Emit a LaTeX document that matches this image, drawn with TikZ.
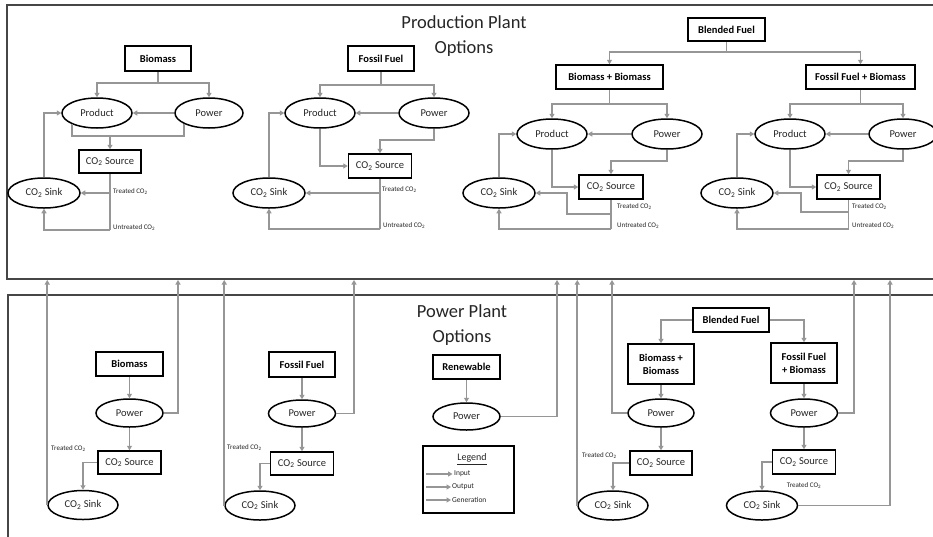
\documentclass[tikz,border=0pt]{standalone}
\usepackage{fontspec}
\setmainfont{Carlito}
\usetikzlibrary{arrows.meta,shapes.geometric}
\definecolor{wiregray}{RGB}{150,150,150}
\definecolor{framegray}{RGB}{70,70,70}
\newcommand{\cotwo}{CO\textsubscript{2}}
\begin{document}
\begin{tikzpicture}[x=1pt,y=-1pt,
  wire/.style={draw=wiregray,line width=1.9pt},
  arr/.style={wire,-{Triangle[length=4.5pt,width=5pt]}},
  fuelbox/.style={draw,line width=1.5pt,fill=white,inner sep=0pt,align=center,
    font=\fontsize{10.5}{13}\selectfont\bfseries},
  plainbox/.style={draw,line width=1.5pt,fill=white,inner sep=0pt,text=black!85,
    font=\fontsize{10.5}{12}\selectfont},
  oval/.style={ellipse,draw,line width=1.5pt,fill=white,inner sep=0pt,text=black!85,
    font=\fontsize{10.5}{12}\selectfont},
  lbl/.style={font=\fontsize{7}{8}\selectfont,inner sep=0pt,anchor=west,text=black!85},
  title/.style={font=\fontsize{18.5}{25}\selectfont,align=center,text=black!85},
  panel/.style={draw=framegray,line width=1.5pt}
]
\useasboundingbox (0,0) rectangle (933,536);
\clip (0,0) rectangle (933,536);
\fill[white] (0,0) rectangle (933,536);

% two panels
\draw[panel] (7,5) rectangle (945,279);
\draw[panel] (8,295) rectangle (945,550);
\coordinate (edge) at (0,280);

\node[title] (ttop) at (464,36.5) {Production Plant\\Options};
\node[title] (tbot) at (462,325) {Power Plant\\Options};

% ---------- Production plant: biomass ----------
\node[fuelbox,minimum width=66pt,minimum height=25pt] (t1fuel) at (158,58.5) {Biomass};
\node[oval,minimum width=70pt,minimum height=30pt] (t1prod) at (97,113) {Product};
\node[oval,minimum width=68pt,minimum height=30pt] (t1pow) at (209,113) {Power};
\node[plainbox,minimum width=62pt,minimum height=23pt] (t1src) at (110,161.5) {\cotwo{} Source};
\node[oval,minimum width=72pt,minimum height=30pt] (t1sink) at (44,193) {\cotwo{} Sink};
\coordinate (t1j) at (158,83);
\coordinate (t1k) at (110,136);
\coordinate (t1u) at (110,230);
\draw[wire] (t1fuel) -- (t1j);
\draw[arr] (t1j) -| (t1prod.north);
\draw[arr] (t1j) -| (t1pow.north);
\draw[arr] (t1pow) -- (t1prod);
\draw[wire] (t1prod.south west) |- (t1k) -| (t1pow.south west);
\draw[arr] (t1k) -- (t1src);
\draw[wire] (t1src) -- (t1u);
\draw[arr] (t1src.south |- t1sink.east) -- (t1sink.east);
\draw[arr] (t1u) -| (t1sink.south);
\draw[arr] (t1sink.north) |- (t1prod.west);
\node[lbl] (t1tl) at (113,192) {Treated \cotwo};
\node[lbl] (t1ul) at (113,228) {Untreated \cotwo};

% ---------- Production plant: fossil fuel ----------
\node[fuelbox,minimum width=66pt,minimum height=25pt] (t2fuel) at (381,58.5) {Fossil Fuel};
\node[oval,minimum width=70pt,minimum height=30pt] (t2prod) at (320,113) {Product};
\node[oval,minimum width=70pt,minimum height=30pt] (t2pow) at (434,113) {Power};
\node[plainbox,minimum width=63pt,minimum height=24pt] (t2src) at (380,166) {\cotwo{} Source};
\node[oval,minimum width=72pt,minimum height=30pt] (t2sink) at (269,193) {\cotwo{} Sink};
\coordinate (t2j) at (381,85);
\coordinate (t2m) at (380,140);
\coordinate (t2u) at (380,229);
\draw[wire] (t2fuel) -- (t2j);
\draw[arr] (t2j) -| (t2prod.north);
\draw[arr] (t2j) -| (t2pow.north);
\draw[arr] (t2pow) -- (t2prod);
\draw[arr] (t2prod.south) |- (t2src.west);
\draw[arr] (t2pow.south) |- (t2m) -- (t2src.north);
\draw[wire] (t2src) -- (t2u);
\draw[arr] (t2src.south |- t2sink.east) -- (t2sink.east);
\draw[arr] (t2u) -| (t2sink.south);
\draw[arr] (t2sink.north) |- (t2prod.west);
\node[lbl] (t2tl) at (382,190) {Treated \cotwo};
\node[lbl] (t2ul) at (383,226) {Untreated \cotwo};

% ---------- Production plant: blended fuel ----------
\node[fuelbox,minimum width=77pt,minimum height=23pt] (tblend) at (726.5,29.5) {Blended Fuel};
\node[fuelbox,minimum width=107pt,minimum height=24pt] (t3fuel) at (609.5,77) {Biomass + Biomass};
\node[fuelbox,minimum width=109pt,minimum height=24pt] (t4fuel) at (860.5,77) {Fossil Fuel + Biomass};
\coordinate (tbj) at (726.5,52);
\draw[wire] (tblend) -- (tbj);
\draw[arr] (tbj) -| (t3fuel.north);
\draw[arr] (tbj) -| (t4fuel.north);

% biomass + biomass
\node[oval,minimum width=70pt,minimum height=30pt] (t3prod) at (552,134) {Product};
\node[oval,minimum width=70pt,minimum height=30pt] (t3pow) at (667,134) {Power};
\node[plainbox,minimum width=64pt,minimum height=24pt] (t3src) at (611,187) {\cotwo{} Source};
\node[oval,minimum width=72pt,minimum height=30pt] (t3sink) at (499,193) {\cotwo{} Sink};
\coordinate (t3j) at (609.5,104);
\coordinate (t3m) at (611,161);
\coordinate (t3u) at (611,229);
\coordinate (t3t) at (567,214);
\draw[wire] (t3fuel) -- (t3j);
\draw[arr] (t3j) -| (t3prod.north);
\draw[arr] (t3j) -| (t3pow.north);
\draw[arr] (t3pow) -- (t3prod);
\draw[arr] (t3prod.south) |- (t3src.west);
\draw[arr] (t3pow.south) |- (t3m) -- (t3src.north);
\draw[wire] (t3src) -- (t3u);
\draw[arr] (t3src.south |- t3t) -- (t3t) |- (t3sink.east);
\draw[arr] (t3u) -| (t3sink.south);
\draw[arr] (t3sink.north) |- (t3prod.west);
\node[lbl] (t3tl) at (617,207) {Treated \cotwo};
\node[lbl] (t3ul) at (617,226) {Untreated \cotwo};

% fossil fuel + biomass
\node[oval,minimum width=70pt,minimum height=30pt] (t4prod) at (790,134) {Product};
\node[oval,minimum width=68pt,minimum height=30pt] (t4pow) at (903,134) {Power};
\node[plainbox,minimum width=63pt,minimum height=24pt] (t4src) at (848.5,187) {\cotwo{} Source};
\node[oval,minimum width=72pt,minimum height=30pt] (t4sink) at (737,193) {\cotwo{} Sink};
\coordinate (t4j) at (860.5,104);
\coordinate (t4m) at (848.5,161);
\coordinate (t4u) at (848.5,229);
\coordinate (t4t) at (801,212);
\draw[wire] (t4fuel) -- (t4j);
\draw[arr] (t4j) -| (t4prod.north);
\draw[arr] (t4j) -| (t4pow.north);
\draw[arr] (t4pow) -- (t4prod);
\draw[arr] (t4prod.south) |- (t4src.west);
\draw[arr] (t4pow.south) |- (t4m) -- (t4src.north);
\draw[wire] (t4src) -- (t4u);
\draw[arr] (t4src.south |- t4t) -- (t4t) |- (t4sink.east);
\draw[arr] (t4u) -| (t4sink.south);
\draw[arr] (t4sink.north) |- (t4prod.west);
\node[lbl] (t4tl) at (852,207) {Treated \cotwo};
\node[lbl] (t4ul) at (852,226) {Untreated \cotwo};

% ---------- Power plant: biomass ----------
\node[fuelbox,minimum width=67pt,minimum height=24pt] (b1fuel) at (129.5,364) {Biomass};
\node[oval,minimum width=67pt,minimum height=28pt] (b1pow) at (129.5,413) {Power};
\node[plainbox,minimum width=63pt,minimum height=23pt] (b1src) at (129.5,462.5) {\cotwo{} Source};
\node[oval,minimum width=70pt,minimum height=29pt] (b1sink) at (83,505) {\cotwo{} Sink};
\coordinate (b1up) at (178,413);
\draw[arr] (b1fuel) -- (b1pow);
\draw[arr] (b1pow) -- (b1up) -- (b1up |- edge);
\draw[arr] (b1pow) -- (b1src);
\draw[arr] (b1src.west) -| (b1sink.north);
\draw[arr] (b1sink.west) -- (b1sink.west |- edge);
\node[lbl] (b1tl) at (51,449) {Treated \cotwo};

% ---------- Power plant: fossil fuel ----------
\node[fuelbox,minimum width=66pt,minimum height=25pt] (b2fuel) at (302,364.5) {Fossil Fuel};
\node[oval,minimum width=67pt,minimum height=27pt] (b2pow) at (302,413.5) {Power};
\node[plainbox,minimum width=63pt,minimum height=23pt] (b2src) at (302,463.5) {\cotwo{} Source};
\node[oval,minimum width=70pt,minimum height=29pt] (b2sink) at (260,505.5) {\cotwo{} Sink};
\coordinate (b2up) at (354,413.5);
\draw[arr] (b2fuel) -- (b2pow);
\draw[arr] (b2pow) -- (b2up) -- (b2up |- edge);
\draw[arr] (b2pow) -- (b2src);
\draw[arr] (b2src.west) -| (b2sink.north);
\draw[arr] (b2sink.west) -- (b2sink.west |- edge);
\node[lbl] (b2tl) at (227,448) {Treated \cotwo};

% ---------- Power plant: renewable ----------
\node[fuelbox,minimum width=67pt,minimum height=24pt] (b3fuel) at (466.5,367) {Renewable};
\node[oval,minimum width=67pt,minimum height=27pt] (b3pow) at (466.5,416.5) {Power};
\coordinate (b3up) at (557,416.5);
\draw[arr] (b3fuel) -- (b3pow);
\draw[arr] (b3pow) -- (b3up) -- (b3up |- edge);

% legend
\node[draw,line width=1.5pt,minimum width=91pt,minimum height=67pt,inner sep=0pt] (legend) at (468.5,479.5) {};
\node[font=\fontsize{10}{11}\selectfont,text=black!85,inner sep=0pt] (legt) at (472,459) {\underline{Legend}};
\node[lbl,font=\fontsize{7.5}{8}\selectfont] (lin) at (454,474) {Input};
\node[lbl,font=\fontsize{7.5}{8}\selectfont] (lout) at (452,487) {Output};
\node[lbl,font=\fontsize{7.5}{8}\selectfont] (lgen) at (452,500) {Generation};
\coordinate (l1a) at (426,474);
\coordinate (l2a) at (426,487);
\coordinate (l3a) at (426,500);
\draw[arr,line width=1.1pt] (l1a) -- ([xshift=-1.5pt]lin.west);
\draw[arr,line width=1.4pt] (l2a) -- ([xshift=-1pt]lout.west);
\draw[arr,line width=1.8pt] (l3a) -- ([xshift=-1pt]lgen.west);

% ---------- Power plant: blended fuel ----------
\node[fuelbox,minimum width=76pt,minimum height=24pt] (b4blend) at (731,320) {Blended Fuel};
\node[fuelbox,minimum width=66pt,minimum height=40pt] (b4bb) at (661,364) {Biomass +\\Biomass};
\node[fuelbox,minimum width=66pt,minimum height=40pt] (b4fb) at (804,363) {Fossil Fuel\\+ Biomass};
\draw[arr] (b4blend.west) -| (b4bb.north);
\draw[arr] (b4blend.east) -| (b4fb.north);

\node[oval,minimum width=66pt,minimum height=28pt] (b4pow1) at (661,413) {Power};
\node[plainbox,minimum width=62pt,minimum height=24pt] (b4src1) at (661,463) {\cotwo{} Source};
\node[oval,minimum width=70pt,minimum height=29pt] (b4sink1) at (613,505.5) {\cotwo{} Sink};
\coordinate (b4up1) at (612,413);
\draw[arr] (b4bb) -- (b4pow1);
\draw[arr] (b4pow1) -- (b4up1) -- (b4up1 |- edge);
\draw[arr] (b4pow1) -- (b4src1);
\draw[arr] (b4src1.west) -| (b4sink1.north);
\draw[arr] (b4sink1.west) -- (b4sink1.west |- edge);
\node[lbl] (b4tl1) at (582,456) {Treated \cotwo};

\node[oval,minimum width=67pt,minimum height=28pt] (b4pow2) at (804,413) {Power};
\node[plainbox,minimum width=63pt,minimum height=24pt] (b4src2) at (804,462) {\cotwo{} Source};
\node[oval,minimum width=71pt,minimum height=29pt] (b4sink2) at (762,505.5) {\cotwo{} Sink};
\coordinate (b4up2) at (854,413);
\coordinate (b4up3) at (890,505.5);
\draw[arr] (b4fb) -- (b4pow2);
\draw[arr] (b4pow2) -- (b4up2) -- (b4up2 |- edge);
\draw[arr] (b4pow2) -- (b4src2);
\draw[arr] (b4src2.west) -| (b4sink2.north);
\draw[arr] (b4sink2) -- (b4up3) -- (b4up3 |- edge);
\node[lbl,anchor=center] (b4tl2) at (804,486) {Treated \cotwo};
\end{tikzpicture}
\end{document}
